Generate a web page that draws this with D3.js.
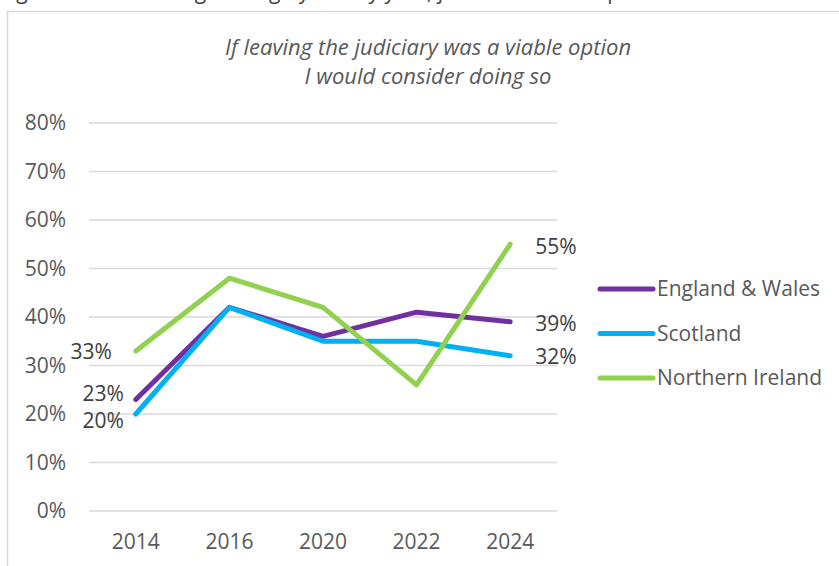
<!DOCTYPE html>
<html>
<head>
<meta charset="utf-8">
<script src="https://cdn.jsdelivr.net/npm/d3@7"></script>
<style>
  html, body { margin: 0; padding: 0; background: #fff; }
  svg { display: block; font-family: "Open Sans", Lato, sans-serif; }
</style>
</head>
<body>
<svg id="chart" width="839" height="566"></svg>
<script>
// Survey years and share agreeing they'd consider leaving, by jurisdiction
const years = ["2014", "2016", "2020", "2022", "2024"];
const englandWales = [23, 42, 36, 41, 39];
const scotland = [20, 42, 35, 35, 32];
const northernIreland = [33, 48, 42, 26, 55];
const yTicks = [0, 10, 20, 30, 40, 50, 60, 70, 80];
const seriesNames = ["England & Wales", "Scotland", "Northern Ireland"];
const seriesColors = ["#7030A0", "#00B0F0", "#92D050"];

const series = [
  { name: seriesNames[0], color: seriesColors[0], values: englandWales },
  { name: seriesNames[1], color: seriesColors[1], values: scotland },
  { name: seriesNames[2], color: seriesColors[2], values: northernIreland }
];

const FONT = 21;
const svg = d3.select("#chart");

// Figure caption sitting above the frame (only its descenders reach the page)
svg.append("text")
  .attr("x", 0).attr("y", -1)
  .attr("font-size", 21).attr("fill", "#404040")
  .text("Figure 6: Considering leaving by survey year, jurisdiction and option");

// Chart frame
svg.append("rect")
  .attr("x", 7.5).attr("y", 11.5)
  .attr("width", 900).attr("height", 600)
  .attr("fill", "#fff").attr("stroke", "#d9d9d9").attr("stroke-width", 1.5);

const x = d3.scaleBand().domain(years).range([89, 557]);
const y = d3.scaleLinear().domain([0, 80]).range([511, 123]);
const cx = d => x(d) + x.bandwidth() / 2;

// Gridlines
svg.append("g").selectAll("line").data(yTicks).join("line")
  .attr("x1", 89).attr("x2", 557)
  .attr("y1", d => y(d)).attr("y2", d => y(d))
  .attr("stroke", "#d9d9d9").attr("stroke-width", 1.5);

// Y axis labels
const yAxis = d3.axisLeft(y).tickValues(yTicks).tickFormat(d => d + "%").tickSize(0).tickPadding(0);
svg.append("g").attr("transform", "translate(66,0)").call(yAxis)
  .call(g => g.select(".domain").remove())
  .call(g => g.selectAll("text").attr("font-size", FONT).attr("fill", "#595959").attr("font-family", "'Open Sans', sans-serif"));

// X axis labels
const xAxis = d3.axisBottom(x).tickSize(0).tickPadding(0);
svg.append("g").attr("transform", "translate(0,534)").call(xAxis)
  .call(g => g.select(".domain").remove())
  .call(g => g.selectAll("text").attr("font-size", FONT).attr("fill", "#595959").attr("font-family", "'Open Sans', sans-serif"));

// Title
svg.append("g").selectAll("text")
  .data(["If leaving the judiciary was a viable option", "I would consider doing so"])
  .join("text")
  .attr("x", 428).attr("y", (d, i) => 47 + i * 29)
  .attr("dy", "0.35em")
  .attr("text-anchor", "middle")
  .attr("font-size", 22).attr("font-style", "italic").attr("fill", "#595959")
  .text(d => d);

// Lines
const line = d3.line().x((d, i) => cx(years[i])).y(d => y(d));
svg.append("g").selectAll("path").data(series).join("path")
  .attr("d", s => line(s.values))
  .attr("fill", "none")
  .attr("stroke", s => s.color)
  .attr("stroke-width", 5)
  .attr("stroke-linecap", "round")
  .attr("stroke-linejoin", "round");

// Value labels at first and last points
const labelStyle = sel => sel.attr("font-size", FONT).attr("fill", "#404040");
const firstOffsets = [[-12, -6], [-12, 7], [-24, 1]];
const lastOffsets = [2, 1, 2];
series.forEach((s, i) => {
  const v0 = s.values[0];
  svg.append("text").call(labelStyle)
    .attr("x", cx(years[0]) + firstOffsets[i][0])
    .attr("y", y(v0) + firstOffsets[i][1])
    .attr("dy", "0.35em").attr("text-anchor", "end")
    .text(v0 + "%");
  const vN = s.values[s.values.length - 1];
  svg.append("text").call(labelStyle)
    .attr("x", cx(years[years.length - 1]) + 25)
    .attr("y", y(vN) + lastOffsets[i])
    .attr("dy", "0.35em")
    .text(vN + "%");
});

// Legend
const legend = svg.append("g").selectAll("g").data(series).join("g")
  .attr("transform", (d, i) => `translate(600,${289 + i * 44.5})`);
legend.append("line")
  .attr("x1", 0).attr("x2", 53)
  .attr("stroke", d => d.color).attr("stroke-width", 5).attr("stroke-linecap", "round");
legend.append("text")
  .attr("x", 57).attr("dy", "0.35em")
  .attr("font-size", FONT).attr("fill", "#595959")
  .text(d => d.name);
</script>
</body>
</html>
